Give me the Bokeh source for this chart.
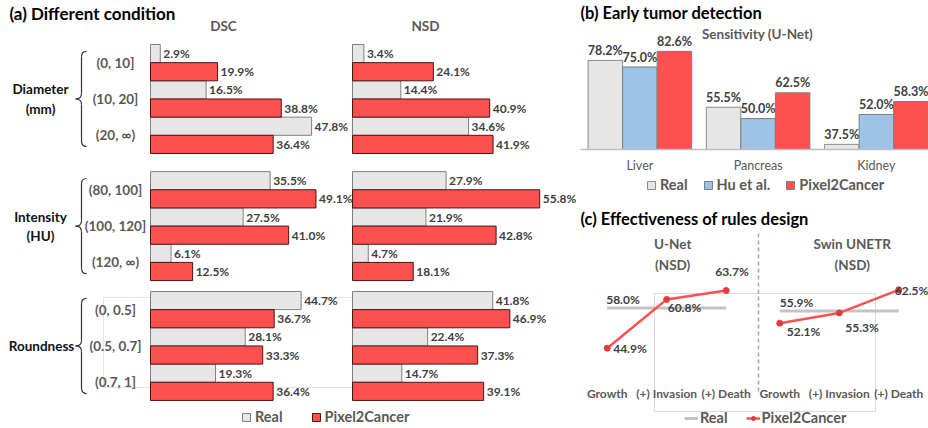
from bokeh.plotting import figure
from bokeh.models import Range1d, ColumnDataSource, Legend, LegendItem
from bokeh.layouts import row, column
from bokeh.transform import dodge
from bokeh.core.properties import value
from bokeh.embed import file_html
from bokeh.resources import INLINE

# ---------------- data ----------------
# (a) Different condition
a_groups = ["Diameter\n(mm)", "Intensity\n(HU)", "Roundness"]
a_cats = ["(0, 10]", "(10, 20]", "(20, \u221e)",
          "(80, 100]", "(100, 120]", "(120, \u221e)",
          "(0, 0.5]", "(0.5, 0.7]", "(0.7, 1]"]
a_cat_group = [0, 0, 0, 1, 1, 1, 2, 2, 2]
dsc_real = [2.9, 16.5, 47.8, 35.5, 27.5, 6.1, 44.7, 28.1, 19.3]
dsc_pix = [19.9, 38.8, 36.4, 49.1, 41.0, 12.5, 36.7, 33.3, 36.4]
nsd_real = [3.4, 14.4, 34.6, 27.9, 21.9, 4.7, 41.8, 22.4, 14.7]
nsd_pix = [24.1, 40.9, 41.9, 55.8, 42.8, 18.1, 46.9, 37.3, 39.1]

# (b) Early tumor detection
organs = ["Liver", "Pancreas", "Kidney"]
sens_real = [78.2, 55.5, 37.5]
sens_hu = [75.0, 50.0, 52.0]
sens_pix = [82.6, 62.5, 58.3]

# (c) Effectiveness of rules design
models_c = ["U-Net\n(NSD)", "Swin UNETR\n(NSD)"]
steps_c = ["Growth", "(+) Invasion", "(+) Death"]
real_c = [58.0, 55.9]
pix_unet = [44.9, 60.8, 63.7]
pix_swin = [52.1, 55.3, 62.5]

# ---------------- styles ----------------
FONT_NAME = "Lato"
FONT = value(FONT_NAME)
REAL_FILL, REAL_LINE = "#e6e6e6", "#808080"
PIX_FILL, PIX_LINE = "#ff5050", "#4a1414"
HU_FILL = "#9dc3e6"
LBL = "#404040"
GRAY = "#595959"
TOTAL_W, TOTAL_H = 928, 428
SPLIT = 576          # page x where the right-hand panels begin
RX = 580 - SPLIT     # left edge of right-hand titles, local px


def pct(vals):
    return [f"{v:.1f}%" for v in vals]


def base_fig(w, h, xr, yr):
    p = figure(width=w, height=h, x_range=xr, y_range=yr, output_backend="svg",
               toolbar_location=None, title=None, x_axis_location=None,
               y_axis_location=None, min_border=0, outline_line_color=None)
    p.min_border_left = p.min_border_right = p.min_border_top = p.min_border_bottom = 0
    p.grid.visible = False
    p.extra_x_ranges = {"px": Range1d(0, w)}
    p.extra_y_ranges = {"py": Range1d(h, 0)}
    return p


def legend(items, loc, spacing, gw=10, standoff=4):
    return Legend(items=items, location=loc, orientation="horizontal", glyph_width=gw,
                  glyph_height=10, label_height=16, label_standoff=standoff, spacing=spacing,
                  padding=0, margin=0, border_line_alpha=0, background_fill_alpha=0,
                  label_text_font=FONT_NAME, label_text_font_size="14.5px",
                  label_text_font_style="bold", label_text_color=GRAY)


# ================= panel (a) =================
A_W, A_H = SPLIT, TOTAL_H
ROW_PX = 18.16
TOP_PX = 44
group_start = [0.0, 7.0, 13.6]
DSC_X0, DSC_K = 150, 3.37
NSD_X0, NSD_K = 352, 3.355

pa = base_fig(A_W, A_H, Range1d(-DSC_X0 / DSC_K, (A_W - DSC_X0) / DSC_K),
              Range1d((A_H - TOP_PX) / ROW_PX, -TOP_PX / ROW_PX))
pa.extra_x_ranges["nsd"] = Range1d(-NSD_X0 / NSD_K, (A_W - NSD_X0) / NSD_K)

y_real, y_pix, y_cat = [], [], []
counter = {}
for g in a_cat_group:
    k = counter.get(g, 0)
    counter[g] = k + 1
    base = group_start[g] + 2 * k
    y_real.append(base + 0.5)
    y_pix.append(base + 1.5)
    y_cat.append(base + 1.0)

src_a = ColumnDataSource(dict(
    y_real=y_real, y_pix=y_pix, dsc_real=dsc_real, dsc_pix=dsc_pix,
    nsd_real=nsd_real, nsd_pix=nsd_pix,
    dsc_real_l=pct(dsc_real), dsc_pix_l=pct(dsc_pix),
    nsd_real_l=pct(nsd_real), nsd_pix_l=pct(nsd_pix)))

# faint frame artefact lines
pa.segment(x0=[103, 103, 103], y0=[297, 387, 297], x1=[352, 352, 103], y1=[297, 387, 387],
           line_color="#e3e3e3", line_width=1, x_range_name="px", y_range_name="py")

r_real = pa.hbar(y="y_real", left=0, right="dsc_real", height=1, source=src_a,
                 fill_color=REAL_FILL, line_color=REAL_LINE, line_width=1)
r_pix = pa.hbar(y="y_pix", left=0, right="dsc_pix", height=1, source=src_a,
                fill_color=PIX_FILL, line_color=PIX_LINE, line_width=1)
pa.hbar(y="y_real", left=0, right="nsd_real", height=1, source=src_a, x_range_name="nsd",
        fill_color=REAL_FILL, line_color=REAL_LINE, line_width=1)
pa.hbar(y="y_pix", left=0, right="nsd_pix", height=1, source=src_a, x_range_name="nsd",
        fill_color=PIX_FILL, line_color=PIX_LINE, line_width=1)

vl = dict(text_font=FONT, text_font_size="12px", text_font_style="bold",
          text_color=LBL, text_align="left", text_baseline="middle", x_offset=3, source=src_a)
pa.text(x="dsc_real", y="y_real", text="dsc_real_l", **vl)
pa.text(x="dsc_pix", y="y_pix", text="dsc_pix_l", **vl)
pa.text(x="nsd_real", y="y_real", text="nsd_real_l", x_range_name="nsd", **vl)
pa.text(x="nsd_pix", y="y_pix", text="nsd_pix_l", x_range_name="nsd", **vl)

# category labels
pa.text(x=[115] * len(a_cats), y=y_cat, text=a_cats, x_range_name="px",
        text_font=FONT, text_font_size="13.5px", text_font_style="bold", text_color=GRAY,
        text_align="center", text_baseline="middle")
# group labels
pa.text(x=[40, 40, 41], y=[s + 3.0 for s in group_start], text=a_groups, x_range_name="px",
        text_font=FONT, text_font_size="13.5px", text_font_style="bold", text_color="#111111",
        text_align="center", text_baseline="middle", text_line_height=1.2)

# curly braces
XS, XH, XT, R = 81, 86, 75, 0.3
for s in group_start:
    yt, yb, ym = s + 0.38, s + 5.62, s + 3.0
    pa.quadratic(x0=[XH, XS, XT, XS], y0=[yt, ym - R, ym, yb - R],
                 x1=[XS, XT, XS, XH], y1=[yt + R, ym, ym + R, yb],
                 cx=[XS, XS, XS, XS], cy=[yt, ym, ym, yb],
                 line_color="#333333", line_width=1.2, x_range_name="px")
    pa.segment(x0=[XS, XS], y0=[yt + R, ym + R], x1=[XS, XS], y1=[ym - R, yb - R],
               line_color="#333333", line_width=1.2, x_range_name="px")

# titles
pa.text(x=[9], y=[13], text=["(a) Different condition"], x_range_name="px", y_range_name="py",
        text_font=FONT, text_font_size="17px", text_font_style="bold", text_color="#000000",
        text_align="left", text_baseline="middle")
pa.text(x=[223, 425], y=[25, 25], text=["DSC", "NSD"], x_range_name="px", y_range_name="py",
        text_font=FONT, text_font_size="13.5px", text_font_style="bold", text_color=GRAY,
        text_align="center", text_baseline="middle")

pa.add_layout(legend([LegendItem(label="Real", renderers=[r_real]),
                      LegendItem(label="Pixel2Cancer", renderers=[r_pix])], (241, 3), 28))

# ================= panel (b) =================
B_W, B_H = TOTAL_W - SPLIT, 205
B_PITCH = 118.25
B_LEFT = 580.25 - SPLIT
B_BASE_PX, B_K, B_MIN = 149, 2.062, 35
BW = 0.292
pb = base_fig(B_W, B_H,
              Range1d(-0.5 - B_LEFT / B_PITCH, -0.5 + (B_W - B_LEFT) / B_PITCH),
              Range1d(B_MIN - (B_H - B_BASE_PX) / B_K, B_MIN + B_BASE_PX / B_K))
src_b = ColumnDataSource(dict(x=list(range(len(organs))), real=sens_real, hu=sens_hu, pix=sens_pix,
                              real_l=pct(sens_real), hu_l=pct(sens_hu), pix_l=pct(sens_pix)))
rb_real = pb.vbar(x=dodge("x", -BW), width=BW, bottom=B_MIN, top="real", source=src_b,
                  fill_color=REAL_FILL, line_color="#8c8c8c", line_width=1)
rb_hu = pb.vbar(x="x", width=BW, bottom=B_MIN, top="hu", source=src_b,
                fill_color=HU_FILL, line_color="#7f7f7f", line_width=1)
rb_pix = pb.vbar(x=dodge("x", BW), width=BW, bottom=B_MIN, top="pix", source=src_b,
                 fill_color=PIX_FILL, line_color="#7f7f7f", line_width=1)
pb.segment(x0=[RX], x1=[B_W], y0=[B_MIN], y1=[B_MIN], x_range_name="px",
           line_color="#bfbfbf", line_width=1.5)
vb = dict(text_font=FONT, text_font_size="12.5px", text_font_style="bold", text_color=LBL,
          text_align="center", text_baseline="middle", y_offset=-10, source=src_b)
pb.text(x=dodge("x", -BW), y="real", text="real_l", **vb)
pb.text(x="x", y="hu", text="hu_l", **vb)
pb.text(x=dodge("x", BW), y="pix", text="pix_l", **vb)
pb.text(x=list(range(len(organs))), y=[165] * len(organs), text=organs, y_range_name="py",
        text_font=FONT, text_font_size="12.5px", text_color=GRAY,
        text_align="center", text_baseline="middle")
pb.text(x=[RX], y=[12], text=["(b) Early tumor detection"], x_range_name="px", y_range_name="py",
        text_font=FONT, text_font_size="16.5px", text_font_style="bold", text_color="#000000",
        text_align="left", text_baseline="middle")
pb.text(x=[757 - SPLIT], y=[33], text=["Sensitivity (U-Net)"], x_range_name="px",
        y_range_name="py", text_font=FONT, text_font_size="13.5px", text_font_style="bold",
        text_color=GRAY, text_align="center", text_baseline="middle")
pb.add_layout(legend([LegendItem(label="Real", renderers=[rb_real]),
                      LegendItem(label="Hu et al.", renderers=[rb_hu]),
                      LegendItem(label="Pixel2Cancer", renderers=[rb_pix])],
                     (646 - SPLIT, 12), 15))

# ================= panel (c) =================
C_W, C_H = TOTAL_W - SPLIT, TOTAL_H - B_H
C_X0, C_PITCH = 606.7 - SPLIT, 59.5
SWIN_SHIFT = -0.1
pc = base_fig(C_W, C_H,
              Range1d(-C_X0 / C_PITCH, (C_W - C_X0) / C_PITCH),
              Range1d(44.9 - (C_H - 142.7) / 3.069, 44.9 + 142.7 / 3.069))
pc.extra_y_ranges["swin"] = Range1d(52.1 - (C_H - 117.7) / 3.21, 52.1 + 117.7 / 3.21)

xs_u = [j for j in range(len(steps_c))]
xs_s = [len(steps_c) + j + SWIN_SHIFT for j in range(len(steps_c))]

# faint plot-area box and divider
pc.quad(left=[654 - SPLIT], right=[875 - SPLIT], top=[88], bottom=[206],
        x_range_name="px", y_range_name="py",
        fill_alpha=0, line_color="#dadada", line_width=1)
pc.segment(x0=[758 - SPLIT], x1=[758 - SPLIT], y0=[28], y1=[187], x_range_name="px",
           y_range_name="py", line_color="#a6a6a6", line_width=1.5, line_dash="4 3")

GRAY_LINE = "#c4c4c4"
RED = "#ff5050"
rc_real = pc.segment(x0=[xs_u[0]], x1=[xs_u[-1]], y0=[real_c[0]], y1=[real_c[0]],
                     line_color=GRAY_LINE, line_width=3)
pc.segment(x0=[xs_s[0]], x1=[xs_s[-1]], y0=[real_c[1]], y1=[real_c[1]],
           line_color=GRAY_LINE, line_width=3, y_range_name="swin")
rc_line = pc.line(xs_u, pix_unet, line_color=RED, line_width=2.5)
rc_dot = pc.scatter(xs_u, pix_unet, size=6, fill_color="#e03c3c", line_color="#e03c3c")
pc.line(xs_s, pix_swin, line_color=RED, line_width=2.5, y_range_name="swin")
pc.scatter(xs_s, pix_swin, size=6, fill_color="#e03c3c", line_color="#e03c3c", y_range_name="swin")

vc = dict(text_font=FONT, text_font_size="12px", text_font_style="bold", text_color=LBL,
          text_baseline="middle")
pc.text(x=[xs_u[0]], y=[real_c[0]], text=pct(real_c[:1]), text_align="left",
        x_offset=-1, y_offset=-8, **vc)
pc.text(x=xs_u, y=pix_unet, text=pct(pix_unet), text_align="left",
        x_offset=[6, 1, -11], y_offset=[0, 8, -19], **vc)
pc.text(x=[xs_s[0]], y=[real_c[1]], text=pct(real_c[1:]), text_align="left",
        x_offset=0, y_offset=-9, y_range_name="swin", **vc)
pc.text(x=xs_s, y=pix_swin, text=pct(pix_swin), text_align="left",
        x_offset=[7, 6, -4], y_offset=[8, 15, 1], y_range_name="swin", **vc)

pc.text(x=xs_u + xs_s, y=[188] * 6, text=steps_c + steps_c, y_range_name="py",
        text_font=FONT, text_font_size="12px", text_font_style="bold", text_color=GRAY,
        text_align="center", text_baseline="middle")
pc.text(x=[xs_u[1], xs_s[1]], y=[49, 49], text=models_c, y_range_name="py",
        x_offset=[6, 13], text_font=FONT, text_font_size="13.5px", text_font_style="bold",
        text_color=GRAY, text_align="center", text_baseline="middle", text_line_height=1.35)
pc.text(x=[RX], y=[13], text=["(c) Effectiveness of rules design"], x_range_name="px",
        y_range_name="py", text_font=FONT, text_font_size="16.5px", text_font_style="bold",
        text_color="#000000", text_align="left", text_baseline="middle")

pc.add_layout(legend([LegendItem(label="Real", renderers=[rc_real]),
                      LegendItem(label="Pixel2Cancer", renderers=[rc_line, rc_dot])],
                     (684 - SPLIT, 2), 18, gw=14, standoff=2))

layout = row(pa, column(pb, pc))
open("out.html", "w").write(file_html(layout, INLINE))
